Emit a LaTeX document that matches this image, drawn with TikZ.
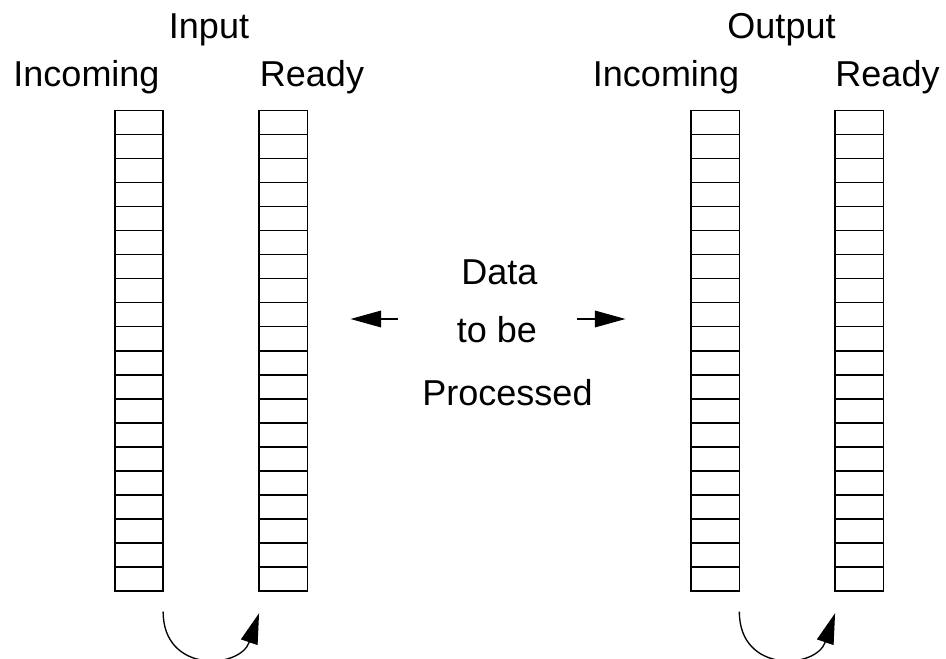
\documentclass[tikz,border=0pt]{standalone}
\usepackage{fontspec}
\setmainfont{Liberation Sans}
\usetikzlibrary{calc,arrows.meta}
\begin{document}
\begin{tikzpicture}[x=0.75pt,y=-0.75pt,
  column/.style={draw,line width=1.2pt,minimum width=36.2pt,minimum height=360pt,inner sep=0pt,outer sep=0pt},
  label/.style={anchor=base,inner sep=0pt,font=\fontsize{27}{32}\selectfont},
  cellline/.style={line width=1.2pt},
  flow/.style={line width=1pt,-{Triangle[length=23pt,width=13pt]}},
  hop/.style={line width=1pt,-{Triangle[length=23pt,width=12.5pt]}}]
\useasboundingbox (0,0) rectangle (946,659);
% columns
\node[column] (inI) at (139,350.7) {};
\node[column] (rdI) at (283.2,350.7) {};
\node[column] (inO) at (715.2,350.7) {};
\node[column] (rdO) at (859.2,350.7) {};
\foreach \c in {inI,rdI,inO,rdO}{
  \foreach \k in {1,...,19}{
    \draw[cellline] ($(\c.north west)+(0,\k*24)$) -- ($(\c.north east)+(0,\k*24)$);
  }
}
% labels
\node[label] (tin) at (209,39) {Input};
\node[label] (tinc1) at (86.5,87) {Incoming};
\node[label] (trd1) at (312,87) {Ready};
\node[label] (tout) at (781.5,39) {Output};
\node[label] (tinc2) at (666,87) {Incoming};
\node[label] (trd2) at (887.5,87) {Ready};
\node[label] (tdata) at (499.5,285) {Data};
\node[label] (ttobe) at (497,343) {to be};
\node[label] (tproc) at (507.5,405) {Processed};
% horizontal arrows
\coordinate (la0) at (398,319);
\coordinate (la1) at (350.5,319);
\coordinate (ra0) at (577,319);
\coordinate (ra1) at (625.5,319);
\draw[hop] (la0) -- (la1);
\draw[hop] (ra0) -- (ra1);
% curved transfer arrows
\coordinate (c1s) at ($(inI.south east)+(0,21)$);
\coordinate (c1e) at ($(rdI.south west)+(0,22.5)$);
\coordinate (c2s) at ($(inO.south east)+(0,21)$);
\coordinate (c2e) at ($(rdO.south west)+(0,22.5)$);
\draw[flow] (c1s) .. controls ($(c1s)+(0,62)$) and ($(c1e)+(-19,56)$) .. (c1e);
\draw[flow] (c2s) .. controls ($(c2s)+(0,62)$) and ($(c2e)+(-19,56)$) .. (c2e);
\end{tikzpicture}
\end{document}
